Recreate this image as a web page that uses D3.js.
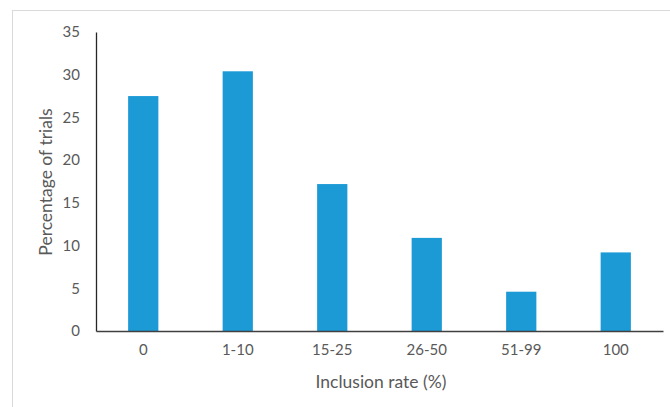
<!DOCTYPE html>
<html><head><meta charset="utf-8">
<script src="https://cdn.jsdelivr.net/npm/d3@7"></script>
<style>body{margin:0;background:#fff}svg{display:block}text{font-family:Lato,"Open Sans",sans-serif;fill:#595959}</style>
</head><body>
<svg id="c" width="670" height="407"></svg>
<script>
const categories = ["0","1-10","15-25","26-50","51-99","100"];
const values = [27.5, 30.4, 17.2, 10.9, 4.6, 9.2];
const yTicks = [0,5,10,15,20,25,30,35];

const svg = d3.select("#c");
svg.append("rect").attr("x",12.5).attr("y",10.5).attr("width",700).attr("height",420)
  .attr("fill","none").attr("stroke","#d9d9d9").attr("stroke-width",1);

const x = d3.scaleBand().domain(categories).range([96,663]).paddingInner(0.68).paddingOuter(0.34);
const y = d3.scaleLinear().domain([0,35]).range([331,32]);

svg.selectAll(".bar").data(values).enter().append("rect")
  .attr("x",(d,i)=>x(categories[i])).attr("width",x.bandwidth())
  .attr("y",d=>y(d)).attr("height",d=>y(0)-y(d)).attr("fill","#1c9ad6");

const ya = svg.append("g").attr("transform","translate(96,0)")
  .call(d3.axisLeft(y).tickValues(yTicks).tickSize(0).tickPadding(16));
ya.select(".domain").attr("stroke","#262626").attr("stroke-width",1.3);
ya.selectAll("text").attr("font-size",15).style("fill","#595959");

const xa = svg.append("g").attr("transform","translate(0,331)")
  .call(d3.axisBottom(x).tickSize(0).tickPadding(13));
xa.select(".domain").attr("stroke","#404040").attr("stroke-width",1.3);
xa.selectAll("text").attr("font-size",15).style("fill","#595959");

svg.append("text").attr("x",381).attr("y",388).attr("text-anchor","middle")
  .attr("font-size",17.5).text("Inclusion rate (%)");
svg.append("text").attr("transform","translate(52,182) rotate(-90)").attr("text-anchor","middle")
  .attr("font-size",17.5).text("Percentage of trials");
</script>
</body></html>
